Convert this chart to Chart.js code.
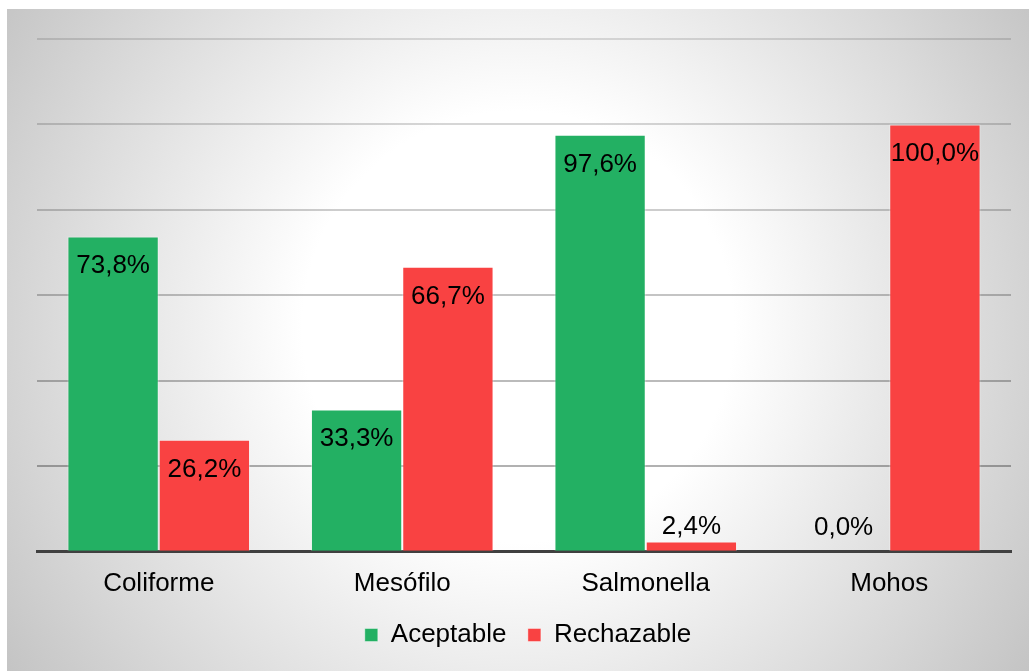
<!DOCTYPE html>
<html>
<head>
<meta charset="utf-8">
<script src="https://cdn.jsdelivr.net/npm/chart.js@4.4.0/dist/chart.umd.min.js"></script>
<style>
  html, body { margin: 0; padding: 0; background: #fff; }
  #frame {
    position: absolute; left: 7px; top: 9px; width: 1022px; height: 662px;
    background: radial-gradient(circle farthest-corner at 50% 48%, #ffffff 0%, #ffffff 35%, #c4c4c4 100%);
  }
  canvas { display: block; }
</style>
</head>
<body>
<div id="frame"><canvas id="chart" width="1022" height="662"></canvas></div>
<script>
// Categories and series values (percent)
const categories = ['Coliforme', 'Mesófilo', 'Salmonella', 'Mohos'];
const seriesNames = ['Aceptable', 'Rechazable'];
const aceptable = [73.8, 33.3, 97.6, 0.0];
const rechazable = [26.2, 66.7, 2.4, 100.0];
const yTicks = [0, 20, 40, 60, 80, 100, 120];

const FONT = '"Liberation Sans", Arial, sans-serif';

// Percent labels with comma decimals, inside the bar top or just above short bars
const valueLabels = {
  id: 'valueLabels',
  afterDraw(chart) {
    const ctx = chart.ctx;
    const zeroY = chart.scales.y.getPixelForValue(0);
    ctx.save();
    ctx.font = '26px ' + FONT;
    ctx.fillStyle = '#000';
    ctx.textAlign = 'center';
    ctx.textBaseline = 'alphabetic';
    chart.data.datasets.forEach((ds, i) => {
      chart.getDatasetMeta(i).data.forEach((bar, j) => {
        const v = ds.data[j];
        const text = v.toFixed(1).replace('.', ',') + '%';
        const h = zeroY - bar.y;
        const y = h > 45 ? bar.y + 37 : Math.min(bar.y - 8, zeroY - 17);
        ctx.fillText(text, bar.x, y);
      });
    });
    ctx.restore();
  }
};

// Nudge the legend row a little to the right of the plot centre
const legendOffset = {
  id: 'legendOffset',
  afterLayout(chart) {
    if (chart.legend) { chart.legend.left += 4; chart.legend.right += 4; }
  }
};

const defaultLabels = Chart.defaults.plugins.legend.labels.generateLabels;

new Chart(document.getElementById('chart'), {
  type: 'bar',
  data: {
    labels: categories,
    datasets: [
      {
        label: seriesNames[0],
        data: aceptable,
        backgroundColor: '#23b063',
        borderColor: 'rgba(255,255,255,0.4)',
        borderWidth: 1,
        categoryPercentage: 0.75,
        barPercentage: 1.0
      },
      {
        label: seriesNames[1],
        data: rechazable,
        backgroundColor: '#f94242',
        borderColor: 'rgba(255,255,255,0.4)',
        borderWidth: 1,
        categoryPercentage: 0.75,
        barPercentage: 1.0
      }
    ]
  },
  options: {
    responsive: false,
    devicePixelRatio: 1,
    animation: false,
    layout: { padding: { left: 30, right: 18, top: 30, bottom: 13 } },
    plugins: {
      tooltip: { enabled: false },
      legend: {
        position: 'bottom',
        labels: {
          boxWidth: 13,
          boxHeight: 13,
          padding: 7,
          color: '#000',
          font: { family: FONT, size: 26 },
          // wider gap between the two legend entries
          generateLabels: chart => defaultLabels(chart).map((item, i, all) => {
            if (i < all.length - 1) item.text = item.text + '  ';
            return item;
          })
        }
      }
    },
    scales: {
      x: {
        z: 1,
        grid: { display: false, drawTicks: false },
        border: { display: true, color: '#404040', width: 3 },
        ticks: { color: '#000', padding: 16, font: { family: FONT, size: 26 } }
      },
      y: {
        z: 1,
        min: 0,
        max: 120,
        afterBuildTicks: s => { s.ticks = yTicks.map(v => ({ value: v })); },
        ticks: { display: false },
        border: { display: false },
        grid: {
          drawTicks: false,
          lineWidth: 2,
          color: c => {
            const v = c.tick ? c.tick.value : 0;
            if (v === 0) return 'rgba(0,0,0,0)';
            return 'rgba(0,0,0,' + (0.34 - v * 0.0018).toFixed(3) + ')';
          }
        }
      }
    }
  },
  plugins: [valueLabels, legendOffset]
});
</script>
</body>
</html>
